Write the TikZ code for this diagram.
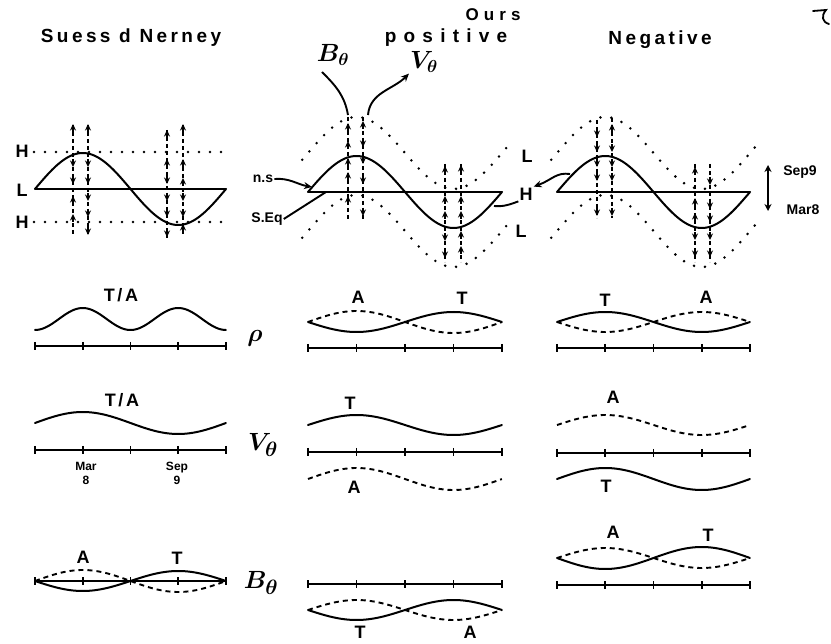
\documentclass[tikz,border=0pt]{standalone}
\usepackage{fontspec}
\setmainfont{Liberation Sans}
\newfontfamily\hand{Liberation Sans}
\usetikzlibrary{arrows.meta}
\newcommand{\swave}[6]{\draw[#1] plot[domain=0:1,samples=90] ({#2+#3*\x},{#4-(#5)*sin(#6*\x)});}
\newcommand{\dwave}[5]{\draw[dotline] plot[domain=-0.03:1.03,samples=90] ({#1+#2*\x},{#3-(#4)*sin(#5*\x)});}
\newcommand{\taxis}[3]{%
  \draw[axisline] (#1,#3) -- ({#1+#2},#3);
  \foreach \k in {0,...,4} \draw[axisline] ({#1+#2*\k/4},{#3-4}) -- ({#1+#2*\k/4},{#3+4});}
\newcommand{\colm}[4]{%
  \draw[colline] (#1,#2) -- (#1,#3);
  \foreach \yy/\dd in {#4} \draw[colarrow] (#1,{\yy+4*\dd}) -- (#1,{\yy-4*\dd});}
\tikzset{
  ink/.style={line width=2pt, line cap=round, line join=round},
  wdash/.style={line width=1.9pt, dash pattern=on 5pt off 4pt},
  axisline/.style={line width=1.8pt},
  colline/.style={line width=1.4pt, dash pattern=on 4pt off 3pt},
  colarrow/.style={line width=1.8pt, -{Stealth[length=6.5pt,width=6pt]}},
  dotline/.style={line width=2.8pt, line cap=round, dash pattern=on 0pt off 11pt},
  title/.style={font=\hand\bfseries\fontsize{19}{19}\selectfont\addfontfeature{LetterSpace=18}, inner sep=1pt},
  letter/.style={font=\hand\bfseries\fontsize{18}{18}\selectfont, inner sep=1pt},
  small/.style={font=\hand\bfseries\fontsize{14}{14}\selectfont, inner sep=1pt},
  mathlab/.style={font=\boldmath\fontsize{24}{24}\selectfont, inner sep=1pt},
  conn/.style={line width=1.9pt},
  connarrow/.style={line width=1.9pt, -{Stealth[length=8pt,width=7pt]}},
}
\begin{document}
\begin{tikzpicture}[x=1pt,y=-1pt]
\fill[white] (0,0) rectangle (831,644);
\useasboundingbox (0,0) rectangle (831,644);

% ---------- titles ----------
\node[title] (tSN) at (131,38) {Suess d Nerney};
\node[title, font=\hand\bfseries\fontsize{17}{17}\selectfont\addfontfeature{LetterSpace=30}] (tOurs) at (493,15) {Ours};
\node[title, font=\hand\bfseries\fontsize{19}{19}\selectfont\addfontfeature{LetterSpace=38}] (tPos) at (446,38) {positive};
\node[title] (tNeg) at (660,40) {Negative};

% ---------- left panel (Suess & Nerney) ----------
\draw[ink] (35,189) -- (226,189);
\swave{ink}{35}{191}{189}{36}{360}
\draw[dotline] (34,152) -- (224,152);
\draw[dotline] (34,222) -- (224,222);
\node[letter] (H1) at (22,151) {H};
\node[letter] (L1) at (22,190) {L};
\node[letter] (H2) at (22,222) {H};
\colm{73}{125}{235}{128/1,163/-1,180/-1,200/1,218/1}
\colm{88}{125}{235}{128/1,163/-1,180/-1,197/-1,213/-1,231/-1}
\colm{167}{130}{238}{134/1,163/1,180/-1,197/-1,213/-1,233/-1}
\colm{183}{125}{235}{128/1,163/1,182/1,197/-1,213/-1,228/1}

% ---------- middle panel (positive) ----------
\draw[ink] (308,192) -- (502,192);
\swave{ink}{308}{194}{192}{36}{360}
\dwave{308}{194}{153}{36}{360}
\dwave{308}{194}{231}{36}{360}
\colm{348}{117}{220}{127/1,145/1,162/1,176/1,200/1}
\colm{363}{117}{220}{125/1,143/-1,160/-1,180/-1,212/-1}
\colm{445}{164}{262}{170/1,200/1,215/1,237/-1,254/-1}
\colm{461}{164}{262}{169/1,200/1,215/1,235/1,250/1}
\coordinate (mtopB) at (348,115);
\coordinate (mtopV) at (368,115);
\node[mathlab] (Bt) at (333,55) {$B_\theta$};
\node[mathlab] (Vt) at (424,62) {$V_\theta$};
\draw[conn] (322,72) to[out=-45,in=100] (mtopB);
\draw[connarrow] (mtopV) to[out=85,in=225] (Vt.south west);
\node[small] (ns) at (263,179) {n.s};
\node[small] (seq) at (267,219) {S.Eq};
\coordinate (mstart) at (312,187);
\coordinate (mLeq) at (326,192);
\draw[connarrow] (ns.east) to[out=5,in=170] (mstart);
\draw[conn] (seq.east) -- (mLeq);
\node[letter] (Lm1) at (527,156) {L};
\node[letter] (Lm2) at (521,231) {L};
\node[letter] (Hm) at (526,194) {H};
\coordinate (msine) at (494,206);
\draw[conn] (msine) to[out=-5,in=200] (Hm.south west);

% ---------- right panel (negative) ----------
\draw[ink] (557,192) -- (750,192);
\swave{ink}{557}{193}{192}{36}{360}
\dwave{557}{193}{153}{36}{360}
\dwave{557}{193}{231}{36}{360}
\colm{597}{120}{218}{133/-1,148/-1,163/-1,177/-1,212/-1}
\colm{612}{118}{218}{128/1,148/-1,163/-1,177/-1,212/-1}
\colm{695}{164}{262}{171/1,202/1,217/1,236/-1,253/-1}
\colm{710}{164}{262}{181/-1,205/-1,218/-1,236/-1,253/-1}
\coordinate (nsine) at (570,174);
\draw[connarrow] (nsine) .. controls (556,172) and (552,180) .. (Hm.north east);
\node[small] (sep9) at (800,172) {Sep9};
\node[small] (mar8) at (803,210) {Mar8};
\coordinate (sa) at (768,165);
\coordinate (sb) at (768,211);
\draw[line width=1.9pt, {Stealth[length=7pt,width=7pt]}-{Stealth[length=7pt,width=7pt]}] (sa) -- (sb);
\draw[line width=1.8pt, line cap=round] (813,11) -- (826,10) .. controls (821,16) and (822,22) .. (829,24);

% ---------- row 1 : rho ----------
\taxis{35}{191}{346}
\draw[ink] plot[domain=0:1,samples=90] ({35+191*\x},{319+11*cos(720*\x)});
\node[letter, font=\hand\bfseries\fontsize{18}{18}\selectfont\addfontfeature{LetterSpace=15}] (TA1) at (121,295) {T/A};
\node[mathlab, font=\boldmath\fontsize{34}{34}\selectfont] (rho) at (255,338) {$\rho$};

\taxis{308}{194}{348}
\swave{ink}{308}{194}{322}{-10}{360}
\swave{wdash}{308}{194}{322}{11}{360}
\node[letter] (A1m) at (358,297) {A};
\node[letter] (T1m) at (462,298) {T};

\taxis{557}{193}{348}
\swave{ink}{557}{193}{322}{10}{360}
\swave{wdash}{557}{193}{322}{-10}{360}
\node[letter] (T1n) at (605,300) {T};
\node[letter] (A1n) at (706,297) {A};

% ---------- row 2 : V_theta ----------
\taxis{35}{191}{450}
\swave{ink}{35}{191}{423}{11}{360}
\node[letter, font=\hand\bfseries\fontsize{18}{18}\selectfont\addfontfeature{LetterSpace=15}] (TA2) at (122,400) {T/A};
\node[mathlab, font=\boldmath\fontsize{30}{30}\selectfont] (Vrow) at (263,445) {$V_\theta$};
\node[small, align=center, font=\hand\bfseries\fontsize{12}{14}\selectfont] (mar) at (86,473) {Mar\\8};
\node[small, align=center, font=\hand\bfseries\fontsize{12}{14}\selectfont] (sep) at (177,473) {Sep\\9};

\taxis{308}{194}{452}
\swave{ink}{308}{194}{425}{10}{360}
\swave{wdash}{308}{194}{479}{11}{360}
\node[letter] (T2m) at (350,403) {T};
\node[letter] (A2m) at (354,487) {A};

\taxis{557}{193}{453}
\swave{wdash}{557}{193}{425}{10}{360}
\swave{ink}{557}{193}{479}{11}{360}
\node[letter] (A2n) at (613,397) {A};
\node[letter] (T2n) at (606,486) {T};

% ---------- row 3 : B_theta ----------
\taxis{35}{191}{581}
\swave{ink}{35}{191}{581}{-10}{360}
\swave{wdash}{35}{191}{581}{11}{360}
\node[letter] (A3l) at (83,557) {A};
\node[letter] (T3l) at (177,558) {T};
\node[mathlab, font=\boldmath\fontsize{30}{30}\selectfont] (Brow) at (261,583) {$B_\theta$};

\taxis{308}{194}{584}
\swave{ink}{308}{194}{610}{-10}{360}
\swave{wdash}{308}{194}{610}{10}{360}
\node[letter] (T3m) at (360,632) {T};
\node[letter] (A3m) at (470,632) {A};

\taxis{557}{193}{585}
\swave{wdash}{557}{193}{558}{10}{360}
\swave{ink}{557}{193}{558}{-11}{360}
\node[letter] (A3n) at (613,532) {A};
\node[letter] (T3n) at (708,535) {T};
\end{tikzpicture}
\end{document}
